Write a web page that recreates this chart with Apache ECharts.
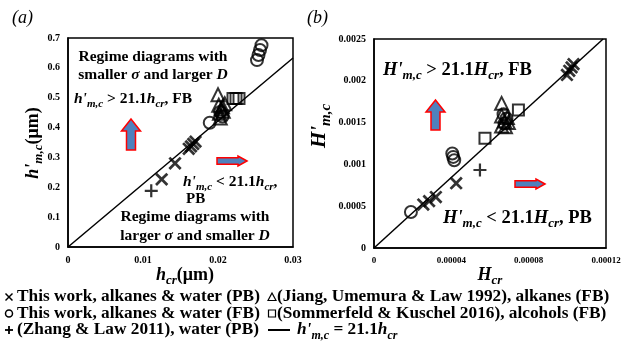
<!DOCTYPE html>
<html><head><meta charset="utf-8">
<script src="https://cdn.jsdelivr.net/npm/echarts@6/dist/echarts.min.js"></script>
<style>html,body{margin:0;padding:0;background:#fff}#c{width:629px;height:360px}</style>
</head><body><div id="c"></div>
<script>
// ---------- Panel (a): h'_{m,c} vs h_cr (µm) ----------
const aThisPB   = [[0.01249,0.2267],[0.01427,0.2803],[0.0161,0.329],[0.0164,0.337],[0.0167,0.345],[0.0170,0.353]];
const aThisFB   = [[0.0189,0.416],[0.0203,0.452],[0.0206,0.437],[0.0252,0.626],[0.0254,0.643],[0.0256,0.660],[0.0258,0.676]];
const aZhang    = [[0.0111,0.188]];
const aJiang    = [[0.0200,0.510],[0.0201,0.475],[0.0204,0.462],[0.0202,0.448],[0.0206,0.470],[0.0203,0.432],[0.0207,0.455],[0.0209,0.480]];
const aSomm     = [[0.0220,0.497],[0.0224,0.497],[0.0228,0.497]];
const aLine     = [[0,0],[0.03,0.633]];
const aXTicks   = ['0','0.01','0.02','0.03'];
const aYTicks   = ['0','0.1','0.2','0.3','0.4','0.5','0.6','0.7'];

// ---------- Panel (b): H'_{m,c} vs H_cr ----------
const bThisPB   = [[2.55e-5,0.00052],[2.85e-5,0.00056],[3.2e-5,0.00061],[4.25e-5,0.000775],[9.98e-5,0.00207],[1.01e-4,0.00212],[1.022e-4,0.00216],[1.032e-4,0.00220]];
const bThisFB   = [[1.91e-5,0.00043],[4.05e-5,0.00113],[4.1e-5,0.00109],[4.15e-5,0.00105],[6.7e-5,0.00160],[6.85e-5,0.00155],[6.75e-5,0.00149]];
const bZhang    = [[5.48e-5,0.000933]];
const bJiang    = [[6.6e-5,0.00173],[6.6e-5,0.00158],[6.75e-5,0.00152],[6.9e-5,0.00156],[6.6e-5,0.00146],[6.8e-5,0.00145],[6.95e-5,0.0015]];
const bSomm     = [[5.74e-5,0.001312],[7.47e-5,0.00165]];
const bLine     = [[0,0],[0.0001185,0.0025]];
const bXTicks   = ['0','0.00004','0.00008','0.00012'];
const bYTicks   = ['0','0.0005','0.001','0.0015','0.002','0.0025'];

const seriesNames = ['This work, alkanes & water (PB)','This work, alkanes & water (FB)','(Zhang & Law 2011), water (PB)',
                     '(Jiang, Umemura & Law 1992), alkanes (FB)','(Sommerfeld & Kuschel 2016), alcohols (FB)'];

const FF = "'Liberation Serif','Times New Roman',serif";
const PLUS = 'path://M5.8,0h2.4v5.8h5.8v2.4h-5.8v5.8h-2.4v-5.8h-5.8v-2.4h5.8z';
function rs(fs, sub){ sub = sub || 0.72; return {
  b:{fontFamily:FF,fontWeight:'bold',fontSize:fs,lineHeight:fs+6,fill:'#000'},
  i:{fontFamily:FF,fontWeight:'bold',fontStyle:'italic',fontSize:fs,lineHeight:fs+6,fill:'#000'},
  bi:{fontFamily:FF,fontWeight:'bold',fontStyle:'italic',fontSize:fs,lineHeight:fs+6,fill:'#000'},
  s:{fontFamily:FF,fontWeight:'bold',fontStyle:'italic',fontSize:Math.round(fs*sub),lineHeight:Math.round(fs*sub*0.8),verticalAlign:'bottom',fill:'#000'}
};}
function txt(x,y,text,fs,align,rot){
  return {type:'text',x:x,y:y,rotation:rot||0,z:100,style:{text:text,rich:rs(fs),align:align||'left',verticalAlign:'middle',fill:'#000',font:'bold '+fs+'px '+FF}};
}
function upArrow(cx,top,bottom){
  const hw=9.5, sw=4.5, hb=top+12;
  return {type:'polygon',z:90,shape:{points:[[cx,top],[cx+hw,hb],[cx+sw,hb],[cx+sw,bottom],[cx-sw,bottom],[cx-sw,hb],[cx-hw,hb]]},
          style:{fill:'#4f81bd',stroke:'#ff0000',lineWidth:1.5}};
}
function rightArrow(left,right,cy){
  const hh=5, sh=3.2, hb=right-9;
  return {type:'polygon',z:90,shape:{points:[[right,cy],[hb,cy-hh],[hb,cy-sh],[left,cy-sh],[left,cy+sh],[hb,cy+sh],[hb,cy+hh]]},
          style:{fill:'#4f81bd',stroke:'#ff0000',lineWidth:1.5}};
}

const axisLabel = (arr,fs)=>({show:true,color:'#000',fontFamily:FF,fontWeight:'bold',fontSize:fs,margin:8,formatter:(v,i)=>arr[i]});
const axisBase = {axisLine:{show:true,onZero:false,lineStyle:{color:'#000',width:1.5}},axisTick:{show:false},splitLine:{show:false}};

const hollow = {color:'rgba(0,0,0,0)',borderColor:'#000',borderWidth:2};
function sc(name,data,gi,kind){
  const s = {name:name,type:'scatter',data:data,xAxisIndex:gi,yAxisIndex:gi,z:5,silent:true};
  if(kind==='x'){s.symbol=PLUS;s.symbolRotate=45;s.symbolSize=16;s.itemStyle={color:'#000'};}
  if(kind==='+'){s.symbol=PLUS;s.symbolSize=13;s.itemStyle={color:'#000'};}
  if(kind==='o'){s.symbol='circle';s.symbolSize=12;s.itemStyle=hollow;}
  if(kind==='t'){s.symbol='triangle';s.symbolSize=13;s.itemStyle=hollow;}
  if(kind==='s'){s.symbol='rect';s.symbolSize=11;s.itemStyle=hollow;}
  return s;
}
function ln(data,gi){return {name:'line',type:'line',data:data,xAxisIndex:gi,yAxisIndex:gi,showSymbol:false,silent:true,z:3,lineStyle:{color:'#000',width:1.5}};}

// legend drawing (markers as shapes, labels as text)
const LX1=5, LX2=268, LT1=17, LT2=277, R=[297,313.5,330];
const legendG = [];
function mk(kind,cx,cy){
  if(kind==='x') return [{type:'line',shape:{x1:cx-3.5,y1:cy-3.5,x2:cx+3.5,y2:cy+3.5},style:{stroke:'#000',lineWidth:1.5}},
                         {type:'line',shape:{x1:cx-3.5,y1:cy+3.5,x2:cx+3.5,y2:cy-3.5},style:{stroke:'#000',lineWidth:1.5}}];
  if(kind==='+') return [{type:'line',shape:{x1:cx-4,y1:cy,x2:cx+4,y2:cy},style:{stroke:'#000',lineWidth:1.8}},
                         {type:'line',shape:{x1:cx,y1:cy-4,x2:cx,y2:cy+4},style:{stroke:'#000',lineWidth:1.8}}];
  if(kind==='o') return [{type:'circle',shape:{cx:cx,cy:cy,r:3.5},style:{fill:'none',stroke:'#000',lineWidth:1.5}}];
  if(kind==='t') return [{type:'polygon',shape:{points:[[cx,cy-4],[cx+4,cy+3.5],[cx-4,cy+3.5]]},style:{fill:'none',stroke:'#000',lineWidth:1.2}}];
  if(kind==='s') return [{type:'rect',shape:{x:cx-3.5,y:cy-3.5,width:7,height:7},style:{fill:'none',stroke:'#000',lineWidth:1.2}}];
  return [];
}
const legendKinds=['x','o','+','t','s'];
for(let k=0;k<5;k++){
  const col = k<3?0:1, row = k<3?k:k-3;
  mk(legendKinds[k], col?LX2+4:LX1+4, R[row]).forEach(g=>legendG.push(g));
  legendG.push(txt(col?LT2:LT1, R[row], '{b|'+seriesNames[k]+'}', 17.3, 'left'));
}
legendG.push({type:'line',shape:{x1:268,y1:R[2],x2:290,y2:R[2]},style:{stroke:'#000',lineWidth:2}});
legendG.push(txt(297, R[2], "{i|h'}{s|m,c}{b| = 21.1}{i|h}{s|cr}", 17.3, 'left'));

const graphic = [
  // panel labels
  {type:'text',x:12,y:18,style:{text:'(a)',font:'italic 18px '+FF,fill:'#000',verticalAlign:'middle'}},
  {type:'text',x:307,y:18,style:{text:'(b)',font:'italic 18px '+FF,fill:'#000',verticalAlign:'middle'}},
  // axis titles
  txt(33,143,"{i|h'}{s|m,c}{b|(μm)}",18,'center',Math.PI/2),
  txt(185,275,"{i|h}{s|cr}{b|(μm)}",18,'center'),
  txt(320,126,"{i|H'}{s|m,c}",21,'center',Math.PI/2),
  txt(490,275,"{i|H}{s|cr}",18,'center'),
  // panel (a) annotations
  txt(153,57,'{b|Regime diagrams with}',15.5,'center'),
  txt(153,75,'{b|smaller }{bi|σ}{b| and larger }{bi|D}',15.5,'center'),
  txt(74,99,"{i|h'}{s|m,c}{b| > 21.1}{i|h}{s|cr}{b|, FB}",15.5,'left'),
  txt(183,182,"{i|h'}{s|m,c}{b| < 21.1}{i|h}{s|cr}{b|,}",15.5,'left'),
  txt(186,199,'{b|PB}',15,'left'),
  txt(195,217,'{b|Regime diagrams with}',15.5,'center'),
  txt(195,236,'{b|larger }{bi|σ}{b| and smaller }{bi|D}',15.5,'center'),
  upArrow(131,119,150),
  rightArrow(217,247,161),
  // panel (b) annotations
  txt(383,70,"{i|H'}{s|m,c}{b| > 21.1}{i|H}{s|cr}{b|, FB}",18.5,'left'),
  txt(443,218,"{i|H'}{s|m,c}{b| < 21.1}{i|H}{s|cr}{b|, PB}",18.5,'left'),
  upArrow(435.5,100,130),
  rightArrow(515,545,184)
].concat(legendG);

const option = {
  animation:false,
  backgroundColor:'#fff',
  grid:[
    {left:68,top:38,width:225,height:209,show:true,borderColor:'#000',borderWidth:1.5,backgroundColor:'rgba(0,0,0,0)'},
    {left:374,top:39,width:232,height:209,show:true,borderColor:'#000',borderWidth:1.5,backgroundColor:'rgba(0,0,0,0)'}
  ],
  xAxis:[
    Object.assign({type:'value',gridIndex:0,min:0,max:0.03,interval:0.01,axisLabel:axisLabel(aXTicks,10)},axisBase),
    Object.assign({type:'value',gridIndex:1,min:0,max:0.00012,interval:0.00004,axisLabel:axisLabel(bXTicks,9)},axisBase)
  ],
  yAxis:[
    Object.assign({type:'value',gridIndex:0,min:0,max:0.7,interval:0.1,axisLabel:axisLabel(aYTicks,10)},axisBase),
    Object.assign({type:'value',gridIndex:1,min:0,max:0.0025,interval:0.0005,axisLabel:axisLabel(bYTicks,10)},axisBase)
  ],
  series:[
    ln(aLine,0),
    sc(seriesNames[0],aThisPB,0,'x'), sc(seriesNames[1],aThisFB,0,'o'), sc(seriesNames[2],aZhang,0,'+'),
    sc(seriesNames[3],aJiang,0,'t'), sc(seriesNames[4],aSomm,0,'s'),
    ln(bLine,1),
    sc(seriesNames[0],bThisPB,1,'x'), sc(seriesNames[1],bThisFB,1,'o'), sc(seriesNames[2],bZhang,1,'+'),
    sc(seriesNames[3],bJiang,1,'t'), sc(seriesNames[4],bSomm,1,'s')
  ],
  graphic:graphic
};
const chart = echarts.init(document.getElementById('c'),null,{renderer:'canvas'});
chart.setOption(option);
</script></body></html>
